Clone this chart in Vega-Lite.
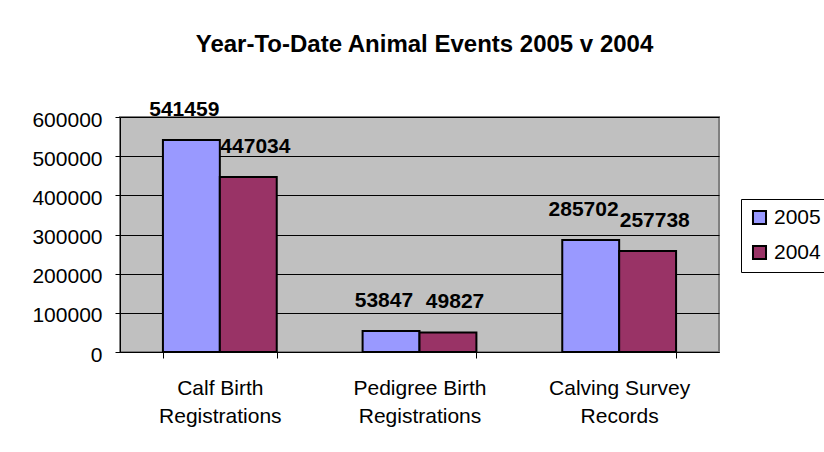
{
  "$schema": "https://vega.github.io/schema/vega-lite/v6.json",
  "autosize": "none",
  "width": 599,
  "height": 235,
  "padding": {"left": 120, "top": 117, "right": 105, "bottom": 100},
  "background": "white",
  "title": {
    "text": "Year-To-Date Animal Events 2005 v 2004",
    "fontSize": 24,
    "fontWeight": "bold",
    "font": "Liberation Sans",
    "color": "black",
    "anchor": "middle",
    "offset": 42,
    "dx": 5
  },
  "data": {
    "values": [
      {"category": "Calf Birth Registrations", "series": "2005", "value": 541459},
      {"category": "Calf Birth Registrations", "series": "2004", "value": 447034},
      {"category": "Pedigree Birth Registrations", "series": "2005", "value": 53847},
      {"category": "Pedigree Birth Registrations", "series": "2004", "value": 49827},
      {"category": "Calving Survey Records", "series": "2005", "value": 285702},
      {"category": "Calving Survey Records", "series": "2004", "value": 257738}
    ]
  },
  "encoding": {
    "x": {
      "field": "category",
      "type": "nominal",
      "sort": ["Calf Birth Registrations", "Pedigree Birth Registrations", "Calving Survey Records"],
      "scale": {"paddingInner": 0.43, "paddingOuter": 0.215},
      "axis": {
        "title": null,
        "labelAngle": 0,
        "labelExpr": "[slice(datum.label, 0, lastindexof(datum.label, ' ')), slice(datum.label, lastindexof(datum.label, ' ') + 1)]",
        "labelFont": "Liberation Sans",
        "labelFontSize": 21,
        "labelColor": "black",
        "labelLineHeight": 28,
        "labelPadding": 19,
        "labelBaseline": "top",
        "tickBand": "extent",
        "tickSize": 6,
        "tickColor": "black",
        "domainColor": "black",
        "domainWidth": 1,
        "grid": false
      }
    },
    "y": {
      "field": "value",
      "type": "quantitative",
      "scale": {"domain": [0, 600000], "nice": false},
      "axis": {
        "title": null,
        "values": [0, 100000, 200000, 300000, 400000, 500000, 600000],
        "format": "d",
        "labelOverlap": false,
        "labelFont": "Liberation Sans",
        "labelFontSize": 21,
        "labelColor": "black",
        "labelPadding": 13,
        "labelOffset": 3,
        "tickSize": 5,
        "tickColor": "black",
        "domainColor": "black",
        "grid": true,
        "gridColor": "black",
        "gridWidth": 1
      }
    }
  },
  "layer": [
    {
      "mark": {"type": "bar", "stroke": "black", "strokeWidth": 2},
      "encoding": {
        "xOffset": {"field": "series", "type": "nominal", "sort": ["2005", "2004"]},
        "color": {
          "field": "series",
          "type": "nominal",
          "scale": {"domain": ["2005", "2004"], "range": ["#9999FF", "#993366"]},
          "legend": {
            "title": null,
            "orient": "none",
            "legendX": 621,
            "legendY": 82,
            "strokeColor": "black",
            "fillColor": "white",
            "padding": 8,
            "symbolType": "square",
            "symbolSize": 170,
            "symbolStrokeColor": "black",
            "symbolStrokeWidth": 2,
            "symbolOpacity": 1,
            "labelFont": "Liberation Sans",
            "labelFontSize": 21,
            "labelColor": "black",
            "labelOffset": 4,
            "rowPadding": 12
          }
        }
      }
    },
    {
      "mark": {
        "type": "text",
        "font": "Liberation Sans",
        "fontSize": 21,
        "fontWeight": "bold",
        "color": "black",
        "baseline": "alphabetic",
        "dy": -24
      },
      "encoding": {
        "xOffset": {
          "field": "series",
          "type": "nominal",
          "sort": ["2005", "2004"],
          "scale": {"type": "point", "padding": 0.3}
        },
        "text": {"field": "value", "type": "quantitative", "format": "d"}
      }
    }
  ],
  "resolve": {"scale": {"xOffset": "independent"}},
  "config": {
    "view": {"fill": "#C0C0C0", "stroke": "#808080", "strokeWidth": 2}
  }
}
